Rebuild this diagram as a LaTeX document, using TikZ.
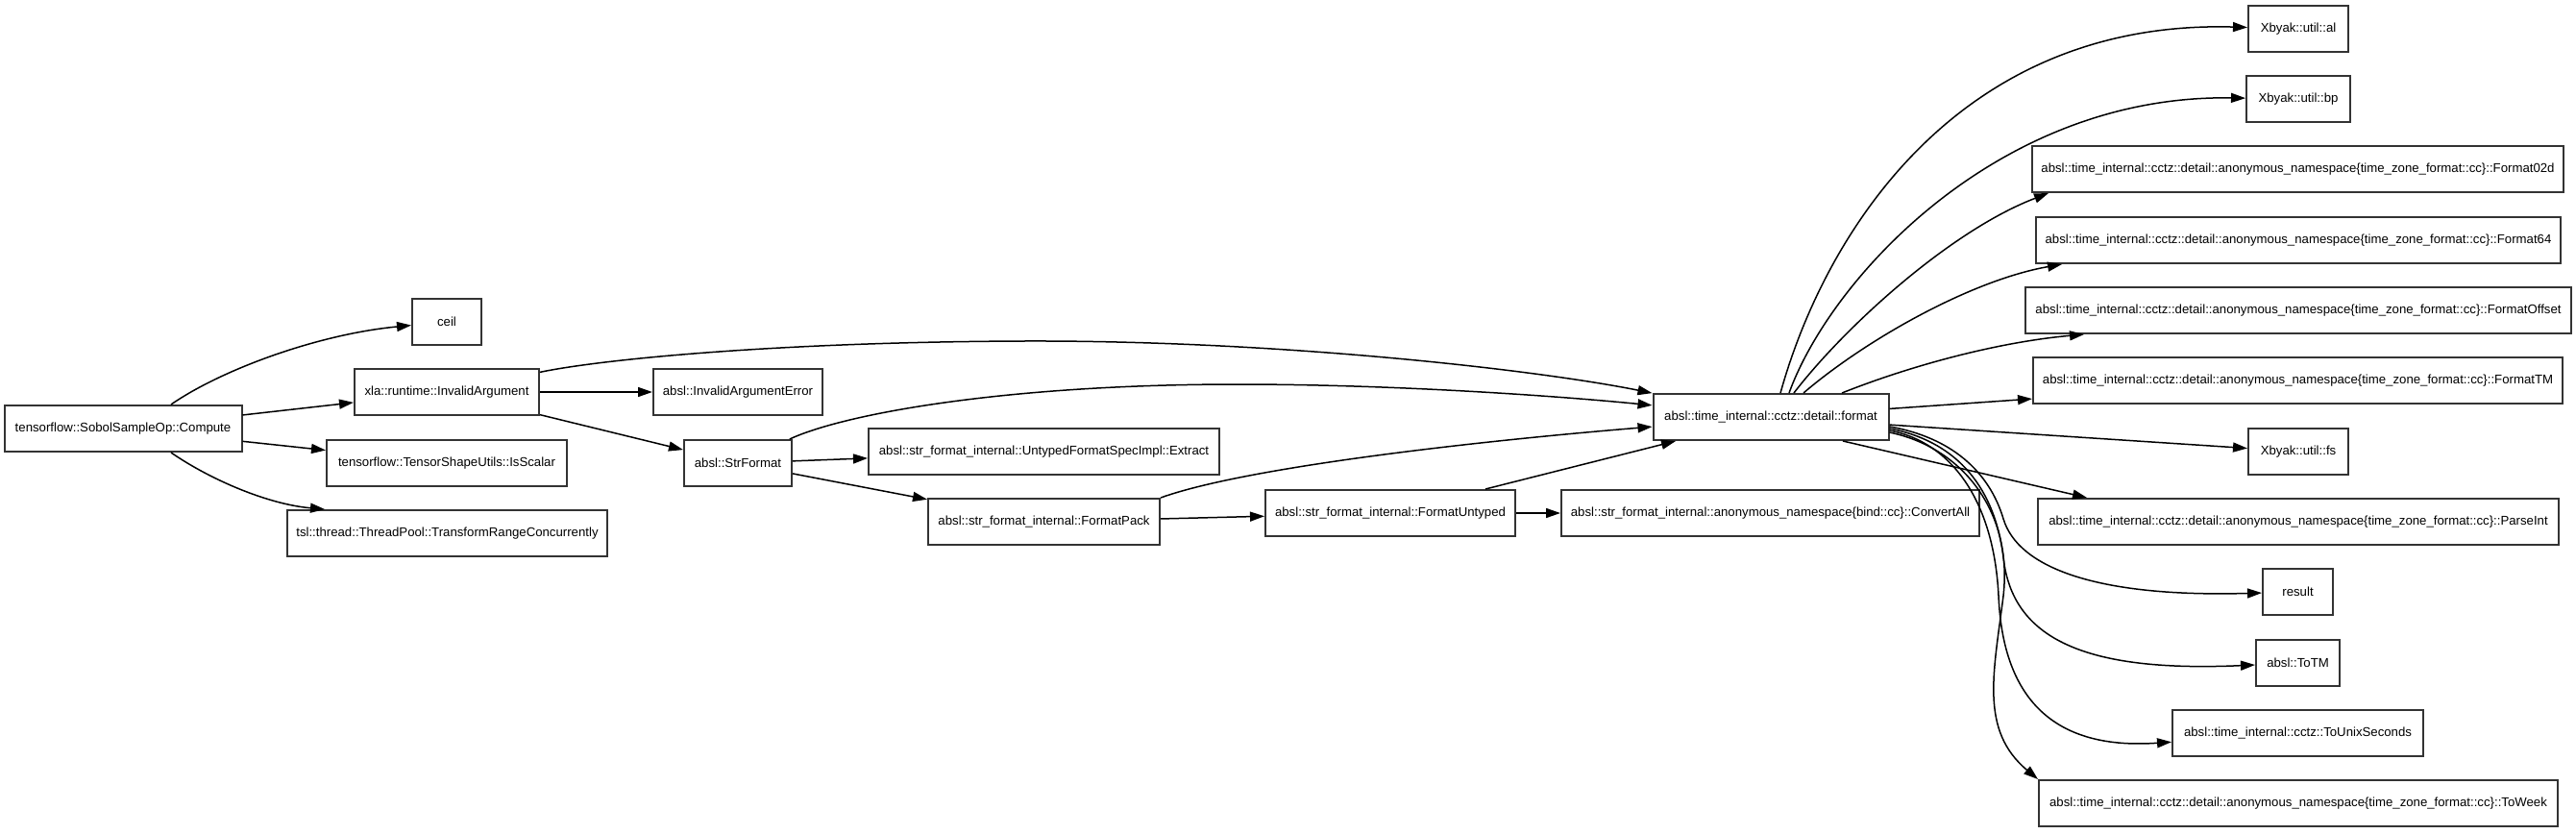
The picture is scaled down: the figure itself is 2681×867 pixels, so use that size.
\documentclass[tikz,border=0pt]{standalone}
\usepackage{fontspec}
\usepackage{tikz}
\usetikzlibrary{arrows.meta}
\newfontfamily\graphfont{Liberation Sans}
\definecolor{callBorder}{RGB}{51,51,51}
\definecolor{callEdge}{RGB}{0,0,0}

\begin{document}
\begin{tikzpicture}[x=0.5pt, y=-0.5pt,
    fn/.style={rectangle, draw=callBorder, line width=1pt, fill=white,
               minimum width=#1*0.5pt, minimum height=24pt, inner sep=0pt,
               font=\graphfont\fontsize{6.6}{8}\selectfont},
    arr/.style={-{Triangle[length=7.5pt, width=5pt]}, callEdge, line width=0.75pt}
  ]
  \useasboundingbox (0,0) rectangle (2681,867);

  \node[fn=247] (compute)  at (128,446)    {tensorflow::SobolSampleOp::Compute};
  \node[fn=72]  (ceil)     at (465,335)    {ceil};
  \node[fn=192] (xla)      at (465,408)    {xla::runtime::InvalidArgument};
  \node[fn=250] (isscalar) at (465,482)    {tensorflow::TensorShapeUtils::IsScalar};
  \node[fn=333] (tsl)      at (465.5,555)  {tsl::thread::ThreadPool::TransformRangeConcurrently};
  \node[fn=176] (iaerr)    at (768,408)    {absl::InvalidArgumentError};
  \node[fn=112] (strfmt)   at (768,482)    {absl::StrFormat};
  \node[fn=365] (extract)  at (1086.5,470) {absl::str\_format\_internal::UntypedFormatSpecImpl::Extract};
  \node[fn=241] (fpack)    at (1086.5,543) {absl::str\_format\_internal::FormatPack};
  \node[fn=260] (funtyped) at (1447,534)   {absl::str\_format\_internal::FormatUntyped};
  \node[fn=435] (convall)  at (1842.5,534) {absl::str\_format\_internal::anonymous\_namespace\{bind::cc\}::ConvertAll};
  \node[fn=245] (fmt)      at (1843,434)   {absl::time\_internal::cctz::detail::format};

  \node[fn=104] (al)     at (2392,30)    {Xbyak::util::al};
  \node[fn=108] (bp)     at (2392,103)   {Xbyak::util::bp};
  \node[fn=553] (f02d)   at (2391.5,176) {absl::time\_internal::cctz::detail::anonymous\_namespace\{time\_zone\_format::cc\}::Format02d};
  \node[fn=546] (f64)    at (2392,250)   {absl::time\_internal::cctz::detail::anonymous\_namespace\{time\_zone\_format::cc\}::Format64};
  \node[fn=568] (foff)   at (2392,323)   {absl::time\_internal::cctz::detail::anonymous\_namespace\{time\_zone\_format::cc\}::FormatOffset};
  \node[fn=551] (ftm)    at (2391.5,396) {absl::time\_internal::cctz::detail::anonymous\_namespace\{time\_zone\_format::cc\}::FormatTM};
  \node[fn=104] (fs)     at (2392,470)   {Xbyak::util::fs};
  \node[fn=542] (pint)   at (2392,543)   {absl::time\_internal::cctz::detail::anonymous\_namespace\{time\_zone\_format::cc\}::ParseInt};
  \node[fn=73]  (result) at (2391.5,616) {result};
  \node[fn=87]  (totm)   at (2391.5,690) {absl::ToTM};
  \node[fn=261] (tounix) at (2391.5,763) {absl::time\_internal::cctz::ToUnixSeconds};
  \node[fn=540] (toweek) at (2392,836)   {absl::time\_internal::cctz::detail::anonymous\_namespace\{time\_zone\_format::cc\}::ToWeek};

  \draw[arr] ([xshift=25pt]compute.north) .. controls (230,385) and (330,348) .. (ceil);
  \draw[arr] (compute) -- (xla);
  \draw[arr] (compute) -- (isscalar);
  \draw[arr] ([xshift=25pt]compute.south) .. controls (220,500) and (280,525) .. ([xshift=20pt]tsl.north west);

  \draw[arr] (xla) -- (iaerr);
  \draw[arr] (xla) -- (strfmt);
  \draw[arr] (xla) .. controls (620,375) and (800,356) .. (1065,355)
                   .. controls (1330,354) and (1600,385) .. (fmt);
  \draw[arr] (strfmt) -- (extract);
  \draw[arr] (strfmt) -- (fpack);
  \draw[arr] (strfmt) .. controls (880,430) and (1050,400) .. (1288,400)
                      .. controls (1450,400) and (1620,412) .. (fmt);
  \draw[arr] (fpack) -- (funtyped);
  \draw[arr] (fpack.north east) .. controls (1300,485) and (1550,458) .. (fmt);
  \draw[arr] (funtyped) -- (convall);
  \draw[arr] (funtyped) -- (fmt);

  \draw[arr] ([xshift=5pt]fmt.north) .. controls (1900,240) and (2040,20) .. (al);
  \draw[arr] ([xshift=9.5pt]fmt.north) .. controls (1905,290) and (2080,98) .. (bp);
  \draw[arr] ([xshift=12pt]fmt.north) .. controls (1920,340) and (2030,240) .. ([xshift=9pt]f02d.south west);
  \draw[arr] ([xshift=17pt]fmt.north) .. controls (1940,355) and (2050,292) .. ([xshift=14pt]f64.south west);
  \draw[arr] ([xshift=37pt]fmt.north) .. controls (1990,380) and (2080,356) .. ([xshift=31pt]foff.south west);
  \draw[arr] (fmt) -- (ftm);
  \draw[arr] (fmt) -- (fs);
  \draw[arr] ([xshift=37.5pt]fmt.south) -- ([xshift=26pt]pint.north west);
  \draw[arr] ([yshift=-5pt]fmt.east) .. controls (2030,455) and (2070,490) .. (2085,540)
                                     .. controls (2100,590) and (2180,622) .. (result);
  \draw[arr] ([yshift=-6pt]fmt.east) .. controls (2030,458) and (2075,500) .. (2085,580)
                                     .. controls (2094,665) and (2170,700) .. (totm);
  \draw[arr] ([yshift=-7pt]fmt.east) .. controls (2030,460) and (2075,520) .. (2080,620)
                                     .. controls (2085,740) and (2150,780) .. (tounix);
  \draw[arr] ([yshift=-8pt]fmt.east) .. controls (2040,465) and (2095,530) .. (2085,620)
                                     .. controls (2075,700) and (2060,760) .. (toweek.north west);
\end{tikzpicture}
\end{document}
